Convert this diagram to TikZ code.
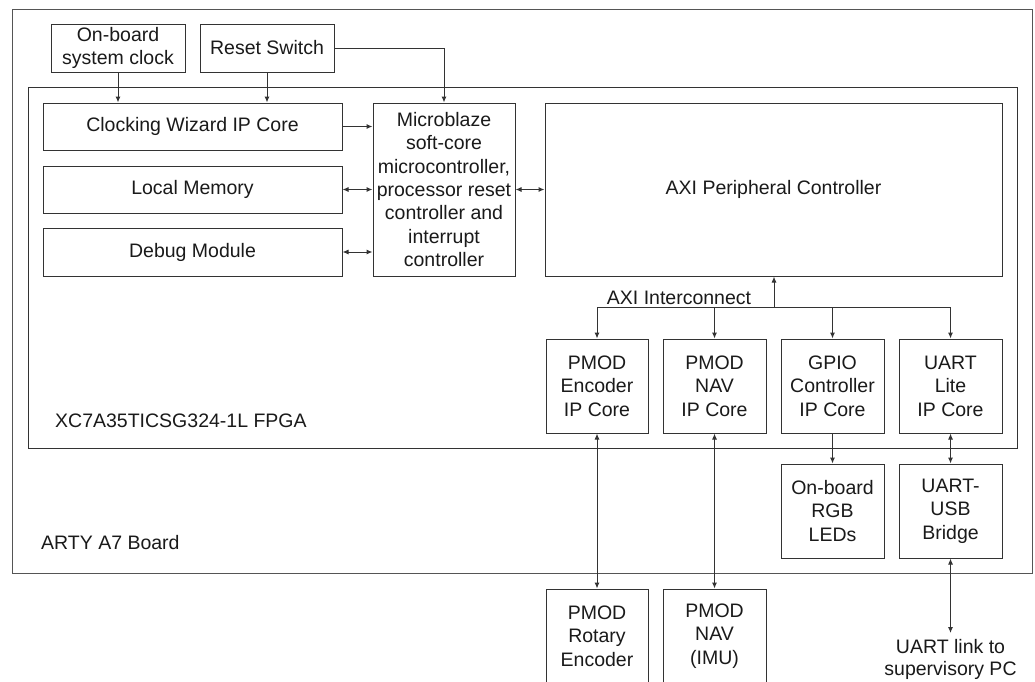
\documentclass[tikz,border=0pt]{standalone}
\usepackage{fontspec}
\setmainfont{Liberation Sans}
\usetikzlibrary{arrows.meta,calc}
\definecolor{linec}{HTML}{333333}
\definecolor{boardc}{HTML}{555555}
\definecolor{textc}{HTML}{1A1A1A}
\tikzset{
  box/.style={draw=linec, line width=1pt, rectangle, inner sep=0pt, align=center,
    text=textc, font=\fontsize{19.5}{23.4}\selectfont},
  lbl/.style={inner sep=0pt, text=textc, font=\fontsize{19.5}{23.4}\selectfont},
  arr/.style={draw=linec, line width=1pt, -{Latex[length=6pt,width=5pt]}},
  biarr/.style={draw=linec, line width=1pt, {Latex[length=6pt,width=5pt]}-{Latex[length=6pt,width=5pt]}},
  wire/.style={draw=linec, line width=1pt},
}
\begin{document}
\begin{tikzpicture}[x=1pt,y=-1pt]
\useasboundingbox (0,0) rectangle (1035,681);
\clip (0,0) rectangle (1035,681);
\fill[white] (0,0) rectangle (1035,681);
% board and FPGA
\draw[draw=boardc, line width=1pt] (12,9) rectangle (1032,573);
\draw[draw=linec, line width=1pt] (28,87) rectangle (1017,448);
\node[lbl, anchor=west] (fpgalbl) at (55,421) {XC7A35TICSG324-1L FPGA};
\node[lbl, anchor=west] (boardlbl) at (41,542.5) {ARTY A7 Board};
% top inputs
\node[box, minimum width=134, minimum height=48] (clk) at (118,48) {On-board\\system clock};
\node[box, minimum width=134, minimum height=48] (rst) at (267,48) {Reset Switch};
% left column
\node[box, minimum width=299, minimum height=47] (wiz) at (192.5,126.5) {Clocking Wizard IP Core};
\node[box, minimum width=299, minimum height=47] (mem) at (192.5,189.5) {Local Memory};
\node[box, minimum width=299, minimum height=48] (dbg) at (192.5,252) {Debug Module};
\node[box, minimum width=142, minimum height=173] (mb) at (444,189.5) {Microblaze\\soft-core\\microcontroller,\\processor reset\\controller and\\interrupt\\controller};
\node[box, minimum width=457, minimum height=173] (axi) at (773.5,189.5) {AXI Peripheral Controller};
% IP cores
\node[box, minimum width=102, minimum height=94] (enc) at (597,386) {PMOD\\Encoder\\IP Core};
\node[box, minimum width=103, minimum height=94] (nav) at (714.5,386) {PMOD\\NAV\\IP Core};
\node[box, minimum width=103, minimum height=94] (gpio) at (832.5,386) {GPIO\\Controller\\IP Core};
\node[box, minimum width=103, minimum height=94] (uart) at (950.5,386) {UART\\Lite\\IP Core};
% board devices
\node[box, minimum width=103, minimum height=94] (rgb) at (832.5,511) {On-board\\RGB\\LEDs};
\node[box, minimum width=103, minimum height=94] (usb) at (950.5,511) {UART-\\USB\\Bridge};
% external
\node[box, minimum width=102, minimum height=94] (rot) at (597,636) {PMOD\\Rotary\\Encoder};
\node[box, minimum width=103, minimum height=94] (imu) at (714.5,636) {PMOD\\NAV\\(IMU)};
\node[lbl, align=center, anchor=north, font=\fontsize{19.5}{22.5}\selectfont] (pc) at (950.5,639) {UART link to\\supervisory PC};
% connectors
\draw[arr] (clk.south) -- (clk.south |- wiz.north);
\draw[arr] (rst.south) -- (rst.south |- wiz.north);
\draw[arr] (rst.east) -| (mb.north);
\draw[arr] (wiz.east) -- (wiz.east -| mb.west);
\draw[biarr] (mem.east) -- (mem.east -| mb.west);
\draw[biarr] (dbg.east) -- (dbg.east -| mb.west);
\draw[biarr] (mb.east) -- (axi.west);
% AXI interconnect bus
\coordinate (bus) at (774,307);
\draw[arr] (bus) -- (bus |- axi.south);
\draw[wire] (enc.north |- bus) -- (uart.north |- bus);
\draw[arr] (enc.north |- bus) -- (enc.north);
\draw[arr] (nav.north |- bus) -- (nav.north);
\draw[arr] (gpio.north |- bus) -- (gpio.north);
\draw[arr] (uart.north |- bus) -- (uart.north);
\node[lbl, anchor=base] (axilbl) at (679,304) {AXI Interconnect};
% lower links
\draw[biarr] (enc.south) -- (rot.north);
\draw[biarr] (nav.south) -- (imu.north);
\draw[arr] (gpio.south) -- (rgb.north);
\draw[biarr] (uart.south) -- (usb.north);
\draw[biarr, shorten >=6pt] (usb.south) -- (pc.north);
\end{tikzpicture}
\end{document}
